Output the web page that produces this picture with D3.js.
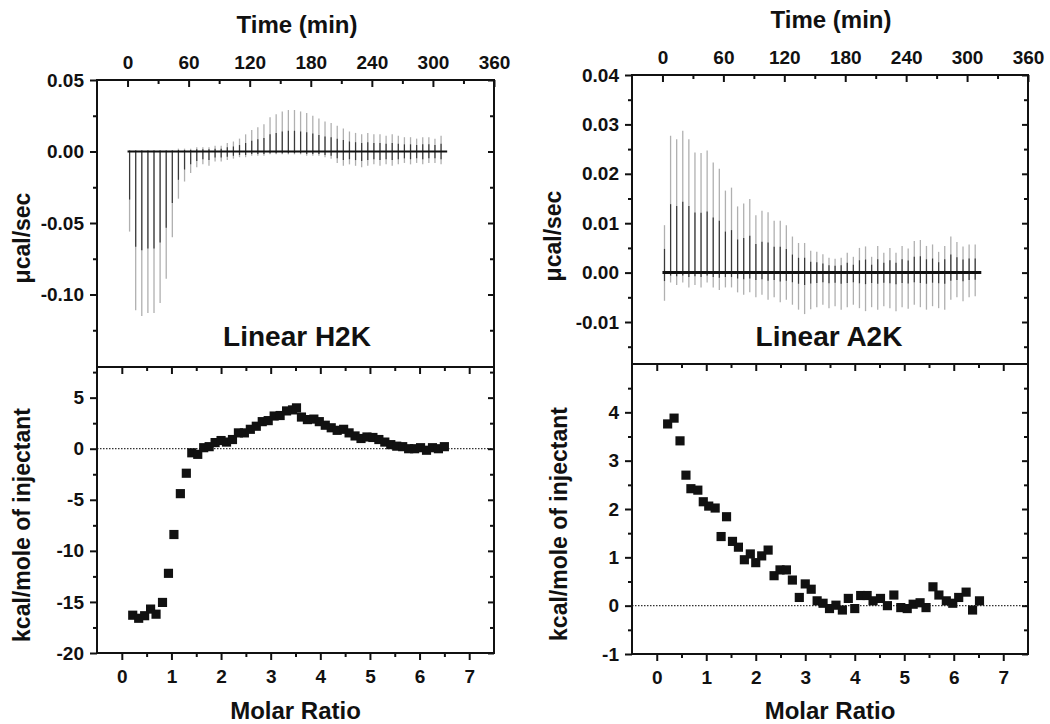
<!DOCTYPE html>
<html><head><meta charset="utf-8">
<script src="https://cdn.jsdelivr.net/npm/d3@7"></script>
<style>
html,body{margin:0;padding:0;background:#fff;}
text{font-family:"Liberation Sans",Arial,sans-serif;font-weight:bold;fill:#111;}
</style></head>
<body>
<svg id="c" width="1050" height="724"></svg>
<script>
// ---------- data ----------
const timeTicks = [0, 60, 120, 180, 240, 300, 360];
const timeMinor = [30, 90, 150, 210, 270, 330];
const ratioTicks = [0, 1, 2, 3, 4, 5, 6, 7];
const ratioMinor = [0.5, 1.5, 2.5, 3.5, 4.5, 5.5, 6.5];

const h2kPowerTicks = [0.05, 0.00, -0.05, -0.10];
const h2kPowerMinor = [0.025, -0.025, -0.075, -0.125];
const h2kHeatTicks = [5, 0, -5, -10, -15, -20];
const h2kHeatMinor = [7.5, 2.5, -2.5, -7.5, -12.5, -17.5];

const a2kPowerTicks = [0.04, 0.03, 0.02, 0.01, 0.00, -0.01];
const a2kPowerMinor = [0.035, 0.025, 0.015, 0.005, -0.005, -0.015];
const a2kHeatTicks = [4, 3, 2, 1, 0, -1];
const a2kHeatMinor = [4.5, 3.5, 2.5, 1.5, 0.5, -0.5];

// injection times (min)
const h2kTimes = [2,8,14,20,26,32,38,44,50,56,62,68,74,80,86,92,98,104,110,116,122,128,134,140,146,152,158,164,170,176,182,188,194,200,206,212,218,224,230,236,242,248,254,260,266,272,278,284,290,296,302,308];
const h2kUp = [0.001,0.001,0.001,0.001,0.001,0.001,0.001,0.001,0.002,0.002,
  0.002,0.003,0.003,0.003,0.004,0.004,0.006,0.007,0.009,0.012,
  0.015,0.017,0.019,0.024,0.026,0.028,0.029,0.029,0.028,0.027,
  0.025,0.023,0.021,0.020,0.018,0.016,0.014,0.013,0.012,0.013,
  0.012,0.012,0.011,0.012,0.011,0.010,0.010,0.009,0.010,0.010,
  0.009,0.011];
const h2kDown = [-0.056,-0.111,-0.115,-0.113,-0.113,-0.106,-0.089,-0.060,-0.033,-0.021,
  -0.015,-0.011,-0.009,-0.010,-0.007,-0.007,-0.006,-0.005,-0.004,-0.004,
  -0.003,-0.003,-0.003,-0.002,-0.002,-0.002,-0.002,-0.002,-0.002,-0.003,
  -0.003,-0.003,-0.004,-0.005,-0.008,-0.010,-0.009,-0.010,-0.011,-0.010,
  -0.009,-0.010,-0.009,-0.010,-0.009,-0.008,-0.009,-0.008,-0.009,-0.008,
  -0.008,-0.009];

const a2kTimes = [2,8,14,20,26,32,38,44,50,56,62,68,74,80,86,92,98,104,110,116,122,128,134,140,146,152,158,164,170,176,182,188,194,200,206,212,218,224,230,236,242,248,254,260,266,272,278,284,290,296,302,308];
const a2kUp = [0.0096,0.0277,0.027,0.0287,0.027,0.0243,0.0242,0.0247,0.0223,0.021,
  0.0166,0.0172,0.0134,0.014,0.0149,0.0116,0.0125,0.0122,0.0105,0.0105,
  0.0096,0.0073,0.006,0.006,0.0044,0.0042,0.0037,0.003,0.0028,0.003,
  0.004,0.0032,0.005,0.0053,0.0032,0.0054,0.004,0.005,0.004,0.0054,
  0.0049,0.0064,0.0066,0.0054,0.0057,0.0042,0.0054,0.0073,0.0062,0.0053,
  0.0057,0.0057];
const a2kDown = [-0.0057,-0.002,-0.0025,-0.002,-0.003,-0.0025,-0.003,-0.002,-0.003,-0.0035,
  -0.003,-0.003,-0.004,-0.0045,-0.004,-0.005,-0.0045,-0.0055,-0.005,-0.006,
  -0.0055,-0.0065,-0.0075,-0.0084,-0.0074,-0.007,-0.0065,-0.0072,-0.0068,-0.0075,
  -0.007,-0.0065,-0.0072,-0.0078,-0.007,-0.0075,-0.0068,-0.0072,-0.0078,-0.007,
  -0.0073,-0.0065,-0.007,-0.0075,-0.0068,-0.0072,-0.0075,-0.0055,-0.005,-0.0058,
  -0.005,-0.0048];

// integrated heats
const h2kRatio = [0.22,0.34,0.46,0.58,0.69,0.82,0.94,1.05,1.18,1.30,1.41,1.53,1.65,1.76,1.88,2.00,2.11,2.23,2.35,2.47,2.59,2.71,2.83,2.95,3.07,3.19,3.32,3.44,3.52,3.62,3.74,3.87,3.98,4.10,4.22,4.34,4.47,4.58,4.70,4.82,4.94,5.06,5.18,5.30,5.42,5.54,5.66,5.78,5.90,6.02,6.14,6.26,6.38,6.50];
const h2kHeat = [-16.3,-16.6,-16.35,-15.7,-16.2,-15.05,-12.2,-8.4,-4.4,-2.4,-0.4,-0.55,0.1,0.2,0.6,0.8,0.65,0.9,1.55,1.55,1.9,2.2,2.65,2.75,3.2,3.25,3.7,3.8,4.0,3.1,2.85,2.9,2.65,2.3,2.05,1.8,1.9,1.55,1.25,1.0,1.15,1.1,0.9,0.65,0.4,0.25,0.2,0.0,0.0,0.1,-0.15,0.1,0.0,0.2];
const a2kRatio = [0.22,0.35,0.47,0.59,0.69,0.83,0.94,1.05,1.18,1.30,1.41,1.53,1.65,1.77,1.89,2.00,2.12,2.25,2.37,2.49,2.62,2.74,2.88,3.00,3.12,3.24,3.36,3.49,3.62,3.75,3.87,4.00,4.12,4.25,4.37,4.52,4.66,4.79,4.93,5.06,5.18,5.32,5.44,5.58,5.70,5.85,5.98,6.10,6.25,6.38,6.52];
const a2kHeat = [3.76,3.88,3.41,2.70,2.42,2.39,2.15,2.06,2.02,1.43,1.84,1.33,1.21,0.95,1.07,0.89,1.03,1.15,0.62,0.74,0.74,0.53,0.17,0.45,0.34,0.10,0.05,-0.06,0.01,-0.09,0.15,-0.06,0.21,0.21,0.10,0.15,0.0,0.22,-0.04,-0.06,0.03,0.06,-0.04,0.39,0.22,0.10,0.05,0.17,0.28,-0.09,0.10];

const baselineEnd = 314;

// ---------- drawing ----------
const svg = d3.select("#c");
svg.append("rect").attr("width",1050).attr("height",724).attr("fill","#fff");

function styleAxis(g){
  g.select(".domain").remove();
  g.selectAll(".tick line").attr("stroke","#111").attr("stroke-width",2);
  g.selectAll(".tick text").style("font-size","19px").style("font-family","'Liberation Sans',Arial,sans-serif").style("font-weight","bold").attr("fill","#111");
}

function drawSide(o){
  const {x0,x1,yTop,yMid,yBot} = o;
  const xT = d3.scaleLinear([-30,360],[x0,x1]);
  const yT = d3.scaleLinear(o.powerDomain,[yMid,yTop]);
  const xB = d3.scaleLinear([-0.5,7.5],[x0,x1]);
  const yB = d3.scaleLinear(o.heatDomain,[yBot,yMid]);
  const fmtP = v => v.toFixed(2);
  const fmtH = v => String(v);

  // ----- top panel -----
  const gT = svg.append("g");
  const sp = o.times.map((t,i)=>({t, up:o.up[i], down:o.down[i]}));
  gT.append("g").selectAll("line").data(sp).join("line")
    .attr("x1",d=>xT(d.t)).attr("x2",d=>xT(d.t))
    .attr("y1",d=>yT(d.down)).attr("y2",d=>yT(d.up))
    .attr("stroke","#b0b0b0").attr("stroke-width",1.3);
  gT.append("g").selectAll("line").data(sp).join("line")
    .attr("x1",d=>xT(d.t)).attr("x2",d=>xT(d.t))
    .attr("y1",d=>yT(d.down*o.darkDown)).attr("y2",d=>yT(d.up*0.5))
    .attr("stroke","#3a3a3a").attr("stroke-width",1.2);
  gT.append("line").attr("x1",xT(0)).attr("x2",xT(baselineEnd))
    .attr("y1",yT(0)).attr("y2",yT(0)).attr("stroke","#111").attr("stroke-width",o.baseW);

  gT.append("g").attr("transform",`translate(0,${yTop})`)
    .call(d3.axisTop(xT).tickValues(timeTicks).tickSize(-7).tickPadding(11).tickFormat(d3.format("d"))).call(styleAxis);
  gT.append("g").attr("transform",`translate(0,${yTop})`)
    .call(d3.axisTop(xT).tickValues(timeMinor).tickSize(-4).tickFormat("")).call(styleAxis);
  gT.append("g").attr("transform",`translate(${x0},0)`)
    .call(d3.axisLeft(yT).tickValues(o.pTicks).tickSize(7).tickPadding(6).tickFormat(fmtP)).call(styleAxis);
  gT.append("g").attr("transform",`translate(${x0},0)`)
    .call(d3.axisLeft(yT).tickValues(o.pMinor).tickSize(4).tickFormat("")).call(styleAxis);
  gT.append("g").attr("transform",`translate(${x1},0)`)
    .call(d3.axisRight(yT).tickValues(o.pTicks).tickSize(-6).tickFormat("")).call(styleAxis);
  gT.append("g").attr("transform",`translate(${x1},0)`)
    .call(d3.axisRight(yT).tickValues(o.pMinor).tickSize(-4).tickFormat("")).call(styleAxis);
  gT.append("rect").attr("x",x0).attr("y",yTop).attr("width",x1-x0).attr("height",yMid-yTop)
    .attr("fill","none").attr("stroke","#111").attr("stroke-width",2);

  // ----- bottom panel -----
  const gB = svg.append("g");
  gB.append("line").attr("x1",x0).attr("x2",x1).attr("y1",yB(0)).attr("y2",yB(0))
    .attr("stroke","#333").attr("stroke-width",1.2).attr("stroke-dasharray","1.5,1.5");
  gB.append("g").attr("transform",`translate(0,${yMid})`)
    .call(d3.axisTop(xB).tickValues(ratioTicks).tickSize(-7).tickFormat("")).call(styleAxis);
  gB.append("g").attr("transform",`translate(0,${yMid})`)
    .call(d3.axisTop(xB).tickValues(ratioMinor).tickSize(-4).tickFormat("")).call(styleAxis);
  gB.append("g").attr("transform",`translate(0,${yBot})`)
    .call(d3.axisBottom(xB).tickValues(ratioTicks).tickSize(7).tickPadding(10).tickFormat(d3.format("d"))).call(styleAxis);
  gB.append("g").attr("transform",`translate(0,${yBot})`)
    .call(d3.axisBottom(xB).tickValues(ratioMinor).tickSize(4).tickFormat("")).call(styleAxis);
  gB.append("g").attr("transform",`translate(${x0},0)`)
    .call(d3.axisLeft(yB).tickValues(o.hTicks).tickSize(7).tickPadding(6).tickFormat(fmtH)).call(styleAxis);
  gB.append("g").attr("transform",`translate(${x0},0)`)
    .call(d3.axisLeft(yB).tickValues(o.hMinor).tickSize(4).tickFormat("")).call(styleAxis);
  gB.append("g").attr("transform",`translate(${x1},0)`)
    .call(d3.axisRight(yB).tickValues(o.hTicks).tickSize(-6).tickFormat("")).call(styleAxis);
  gB.append("g").attr("transform",`translate(${x1},0)`)
    .call(d3.axisRight(yB).tickValues(o.hMinor).tickSize(-4).tickFormat("")).call(styleAxis);
  gB.append("rect").attr("x",x0).attr("y",yMid).attr("width",x1-x0).attr("height",yBot-yMid)
    .attr("fill","none").attr("stroke","#111").attr("stroke-width",2);

  const sym = d3.symbol(d3.symbolSquare, 84);
  gB.append("g").selectAll("path").data(o.ratio.map((r,i)=>({r,h:o.heat[i]}))).join("path")
    .attr("d",sym).attr("transform",d=>`translate(${xB(d.r)},${yB(d.h)})`).attr("fill","#111");

  // ----- titles -----
  const cx = (x0+x1)/2;
  svg.append("text").attr("x",o.timeX).attr("y",o.timeY).attr("text-anchor","middle")
    .style("font-size","24px").text("Time (min)");
  svg.append("text").attr("x",cx).attr("y",719).attr("text-anchor","middle")
    .style("font-size","24px").text("Molar Ratio");
  svg.append("text").attr("transform",`translate(${o.ylabX},${o.pLabY}) rotate(-90)`).attr("text-anchor","middle")
    .style("font-size","23px").text("μcal/sec");
  svg.append("text").attr("transform",`translate(${o.ylabX2},${o.hLabY}) rotate(-90)`).attr("text-anchor","middle")
    .style("font-size","23px").text("kcal/mole of injectant");
  svg.append("text").attr("x",o.nameX).attr("y",346).attr("text-anchor","middle")
    .style("font-size","28px").text(o.name);
}

drawSide({x0:97,x1:494,yTop:80,yMid:367,yBot:653,
  powerDomain:[-0.1507,0.05], heatDomain:[-20,8],
  pTicks:h2kPowerTicks,pMinor:h2kPowerMinor,hTicks:h2kHeatTicks,hMinor:h2kHeatMinor,
  times:h2kTimes,up:h2kUp,down:h2kDown,ratio:h2kRatio,heat:h2kHeat,baseW:2,darkDown:0.6,
  timeX:297,timeY:33,ylabX:30,ylabX2:30,pLabY:238,hLabY:525,nameX:297,name:"Linear H2K"});

drawSide({x0:632,x1:1028,yTop:75,yMid:364,yBot:654,
  powerDomain:[-0.0185,0.04], heatDomain:[-1,5],
  pTicks:a2kPowerTicks,pMinor:a2kPowerMinor,hTicks:a2kHeatTicks,hMinor:a2kHeatMinor,
  times:a2kTimes,up:a2kUp,down:a2kDown,ratio:a2kRatio,heat:a2kHeat,baseW:3,darkDown:0.3,
  timeX:831,timeY:28,ylabX:561,ylabX2:567,pLabY:236,hLabY:524,nameX:829,name:"Linear A2K"});
</script>
</body></html>
